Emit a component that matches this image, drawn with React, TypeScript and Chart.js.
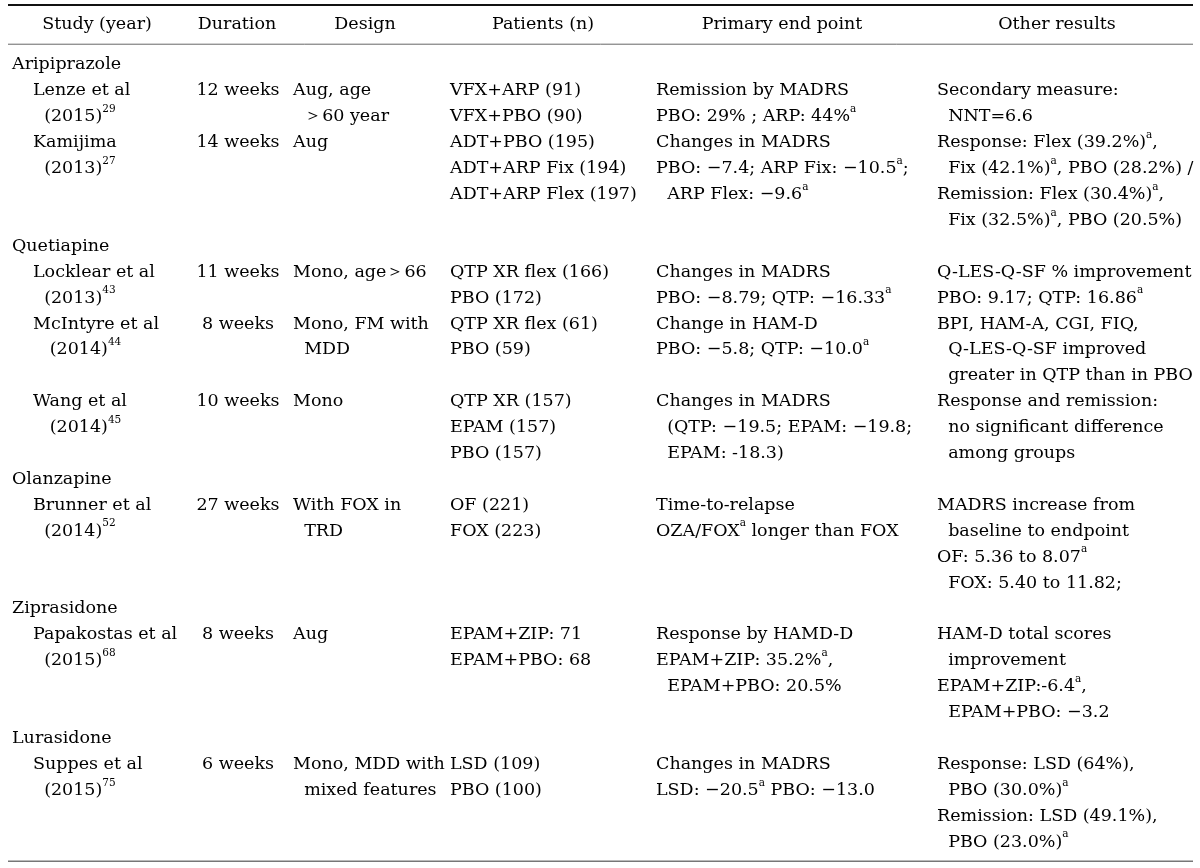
import React, { useEffect, useRef } from "react";
import { Chart, registerables } from "chart.js";

Chart.register(...registerables);

// ---------- DATA ----------
const headers = ["Study (year)", "Duration", "Design", "Patients (n)", "Primary end point", "Other results"];

const drugs = ["Aripiprazole", "Quetiapine", "Olanzapine", "Ziprasidone", "Lurasidone"];

const studyDrug = [0, 0, 1, 1, 1, 2, 3, 4];

const studies = [
  ["Lenze et al", "  (2015)^{29}"],
  ["Kamijima", "  (2013)^{27}"],
  ["Locklear et al", "  (2013)^{43}"],
  ["McIntyre et al", "   (2014)^{44}"],
  ["Wang et al", "   (2014)^{45}"],
  ["Brunner et al", "  (2014)^{52}"],
  ["Papakostas et al", "  (2015)^{68}"],
  ["Suppes et al", "  (2015)^{75}"],
];

const durations = ["12 weeks", "14 weeks", "11 weeks", "8 weeks", "10 weeks", "27 weeks", "8 weeks", "6 weeks"];

const designs = [
  ["Aug, age", "  ＞60 year"],
  ["Aug"],
  ["Mono, age＞66"],
  ["Mono, FM with", "  MDD"],
  ["Mono"],
  ["With FOX in", "  TRD"],
  ["Aug"],
  ["Mono, MDD with", "  mixed features"],
];

const patients = [
  ["VFX+ARP (91)", "VFX+PBO (90)"],
  ["ADT+PBO (195)", "ADT+ARP Fix (194)", "ADT+ARP Flex (197)"],
  ["QTP XR flex (166)", "PBO (172)"],
  ["QTP XR flex (61)", "PBO (59)"],
  ["QTP XR (157)", "EPAM (157)", "PBO (157)"],
  ["OF (221)", "FOX (223)"],
  ["EPAM+ZIP: 71", "EPAM+PBO: 68"],
  ["LSD (109)", "PBO (100)"],
];

const primaryEnd = [
  ["Remission by MADRS", "PBO: 29% ; ARP: 44%^{a}"],
  ["Changes in MADRS", "PBO: −7.4; ARP Fix: −10.5^{a};", "  ARP Flex: −9.6^{a}"],
  ["Changes in MADRS", "PBO: −8.79; QTP: −16.33^{a}"],
  ["Change in HAM-D", "PBO: −5.8; QTP: −10.0^{a}"],
  ["Changes in MADRS", "  (QTP: −19.5; EPAM: −19.8;", "  EPAM: -18.3)"],
  ["Time-to-relapse", "OZA/FOX^{a} longer than FOX"],
  ["Response by HAMD-D", "EPAM+ZIP: 35.2%^{a},", "  EPAM+PBO: 20.5%"],
  ["Changes in MADRS", "LSD: −20.5^{a} PBO: −13.0"],
];

const otherResults = [
  ["Secondary measure:", "  NNT=6.6"],
  ["Response: Flex (39.2%)^{a},", "  Fix (42.1%)^{a}, PBO (28.2%) /", "Remission: Flex (30.4%)^{a},", "  Fix (32.5%)^{a}, PBO (20.5%)"],
  ["Q-LES-Q-SF % improvement", "PBO: 9.17; QTP: 16.86^{a}"],
  ["BPI, HAM-A, CGI, FIQ,", "  Q-LES-Q-SF improved", "  greater in QTP than in PBO"],
  ["Response and remission:", "  no significant difference", "  among groups"],
  ["MADRS increase from", "  baseline to endpoint", "OF: 5.36 to 8.07^{a}", "  FOX: 5.40 to 11.82;"],
  ["HAM-D total scores", "  improvement", "EPAM+ZIP:-6.4^{a},", "  EPAM+PBO: −3.2"],
  ["Response: LSD (64%),", "  PBO (30.0%)^{a}", "Remission: LSD (49.1%),", "  PBO (23.0%)^{a}"],
];

// ---------- LAYOUT / STYLE ----------
const FONT_FAMILY = '"DejaVu Serif", "Liberation Serif", serif';
const FS = 17.5;
const SUP_FS = 10.5;
const SUP_RAISE = 7.5;
const TEXT_COLOR = "#000";
// column anchors in x-scale units
const X_DRUG = 12;
const X_STUDY = 33;
const X_DURATION_CENTER = 238;
const X_DESIGN = 293;
const X_PATIENTS = 450;
const X_PRIMARY = 656;
const X_OTHER = 937;
const HEADER_CENTERS = [97, 237, 365, 543, 782, 1057];
const RULE_LEFT = 8;
const RULE_RIGHT = 1193;

type Cell = { x: number; line: number; text: string; align: "left" | "center" };

function buildCells() {
  const cells: Cell[] = [];
  let li = 0;
  let prev = -1;
  studies.forEach((st, i) => {
    if (studyDrug[i] !== prev) {
      cells.push({ x: X_DRUG, line: li, text: drugs[studyDrug[i]], align: "left" });
      li++;
      prev = studyDrug[i];
    }
    const cols: [string[], number, "left" | "center"][] = [
      [st, X_STUDY, "left"],
      [[durations[i]], X_DURATION_CENTER, "center"],
      [designs[i], X_DESIGN, "left"],
      [patients[i], X_PATIENTS, "left"],
      [primaryEnd[i], X_PRIMARY, "left"],
      [otherResults[i], X_OTHER, "left"],
    ];
    let rows = 0;
    cols.forEach(([lines, x, align]) => {
      lines.forEach((t, k) => cells.push({ x, line: li + k, text: t, align }));
      rows = Math.max(rows, lines.length);
    });
    li += rows;
  });
  return { cells, lastLine: li - 1 };
}

function parseRich(text: string) {
  const parts: { t: string; sup: boolean }[] = [];
  const re = /\^\{([^}]*)\}/g;
  let last = 0;
  let m: RegExpExecArray | null;
  while ((m = re.exec(text))) {
    if (m.index > last) parts.push({ t: text.slice(last, m.index), sup: false });
    parts.push({ t: m[1], sup: true });
    last = m.index + m[0].length;
  }
  if (last < text.length) parts.push({ t: text.slice(last), sup: false });
  return parts;
}

function drawRich(ctx: CanvasRenderingContext2D, text: string, x: number, y: number, align: "left" | "center") {
  const parts = parseRich(text);
  const mainFont = `${FS}px ${FONT_FAMILY}`;
  const supFont = `${SUP_FS}px ${FONT_FAMILY}`;
  let total = 0;
  parts.forEach((p) => {
    ctx.font = p.sup ? supFont : mainFont;
    total += ctx.measureText(p.t).width;
  });
  let cx = align === "center" ? x - total / 2 : x;
  ctx.textAlign = "left";
  ctx.textBaseline = "middle";
  parts.forEach((p) => {
    ctx.font = p.sup ? supFont : mainFont;
    ctx.fillText(p.t, cx, p.sup ? y - SUP_RAISE : y);
    cx += ctx.measureText(p.t).width;
  });
}

const tablePlugin = {
  id: "tablePlugin",
  afterDraw(chart: any) {
    const { ctx, scales } = chart;
    const xs = scales.x;
    const ys = scales.y;
    const { cells, lastLine } = buildCells();
    ctx.save();
    const rule = (v: number, w: number, color: string) => {
      const y = ys.getPixelForValue(v);
      ctx.beginPath();
      ctx.strokeStyle = color;
      ctx.lineWidth = w;
      ctx.moveTo(xs.getPixelForValue(RULE_LEFT), y);
      ctx.lineTo(xs.getPixelForValue(RULE_RIGHT), y);
      ctx.stroke();
    };
    rule(-2.31, 2, "#111");
    rule(-0.8, 1, "#666");
    rule(lastLine + 0.74, 1.6, "#777");

    ctx.fillStyle = TEXT_COLOR;
    headers.forEach((h, i) => {
      drawRich(ctx, h, xs.getPixelForValue(HEADER_CENTERS[i]), ys.getPixelForValue(-1.55), "center");
    });
    cells.forEach((c) => {
      drawRich(ctx, c.text, xs.getPixelForValue(c.x), ys.getPixelForValue(c.line), c.align);
    });
    ctx.restore();
  },
};

export default function App() {
  const ref = useRef<HTMLCanvasElement | null>(null);
  useEffect(() => {
    if (!ref.current) return;
    const { lastLine } = buildCells();
    const pitch = 25.93;
    const yMin = -65 / pitch;
    const yMax = yMin + 868 / pitch;
    const chart = new Chart(ref.current, {
      type: "scatter",
      data: { datasets: [{ data: [], pointRadius: 0 }] },
      options: {
        animation: false,
        responsive: true,
        maintainAspectRatio: false,
        layout: { padding: 0 },
        plugins: { legend: { display: false }, tooltip: { enabled: false }, title: { display: false } },
        scales: {
          x: { type: "linear", min: 0, max: 1200, display: false },
          y: { type: "linear", min: yMin, max: Math.max(yMax, lastLine + 1), reverse: true, display: false },
        },
      },
      plugins: [tablePlugin],
    });
    return () => chart.destroy();
  }, []);
  return (
    <div style={{ position: "absolute", left: 0, top: 0, width: 1200, height: 868, background: "#fff" }}>
      <canvas ref={ref} />
    </div>
  );
}
